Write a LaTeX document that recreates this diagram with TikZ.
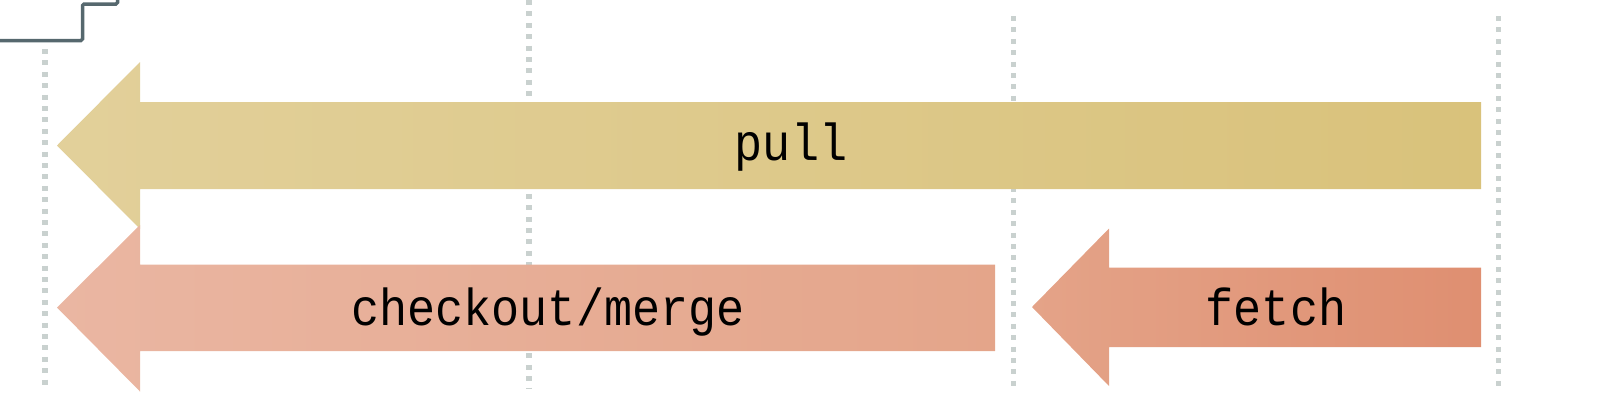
\documentclass[tikz,border=0pt]{standalone}
\usepackage{fontspec}
\newfontfamily\lab{Liberation Mono}[FakeStretch=0.9]
\definecolor{pullL}{HTML}{E2D09A}
\definecolor{pullR}{HTML}{D9C27B}
\definecolor{coL}{HTML}{EAB6A2}
\definecolor{coR}{HTML}{E4A58A}
\definecolor{feL}{HTML}{E4A388}
\definecolor{feR}{HTML}{DF8F71}
\definecolor{dotc}{HTML}{C9D1CF}
\definecolor{slate}{HTML}{56686E}
\tikzset{
  guide/.style={draw=dotc, line width=5.5pt, dash pattern=on 5pt off 6.4pt},
  frameline/.style={draw=slate, line width=3.5pt, rounded corners=1.5pt},
  lbl/.style={font=\lab\fontsize{52}{60}\selectfont, text=black, anchor=base, inner sep=0pt}
}
\begin{document}
\begin{tikzpicture}[x=1pt,y=-1pt]
\useasboundingbox (0,0) rectangle (1600,400);
% guide lines
\coordinate (g1t) at (45,49);   \coordinate (g1b) at (45,388);
\coordinate (g2t) at (529,0);   \coordinate (g2b) at (529,388);
\coordinate (g3t) at (1013.5,16); \coordinate (g3b) at (1013.5,388);
\coordinate (g4t) at (1498.5,16); \coordinate (g4b) at (1498.5,388);
\draw[guide] (g1t) -- (g1b);
\draw[guide] (g2t) -- (g2b);
\draw[guide] (g3t) -- (g3b);
\draw[guide] (g4t) -- (g4b);
% partial frame at top left
\draw[frameline] (-5,40.5) -- (82.5,40.5) -- (82.5,4) -- (117.5,4) -- (117.5,-10);
% pull arrow
\path[left color=pullL, right color=pullR] (57,145.5) -- (140,62) -- (140,102) -- (1481,102) -- (1481,189) -- (140,189) -- (140,229) -- cycle;
% checkout/merge arrow
\path[left color=coL, right color=coR] (57,307.5) -- (140,225) -- (140,264.5) -- (995,264.5) -- (995,351) -- (140,351) -- (140,391.5) -- cycle;
% fetch arrow
\path[left color=feL, right color=feR] (1032,307) -- (1109,228.5) -- (1109,267.5) -- (1481,267.5) -- (1481,347) -- (1109,347) -- (1109,386) -- cycle;
% labels
\node[lbl] (pull) at (791,160) {pull};
\node[lbl] (checkout) at (548,325) {checkout/merge};
\node[lbl] (fetch) at (1276,325) {fetch};
\end{tikzpicture}
\end{document}
